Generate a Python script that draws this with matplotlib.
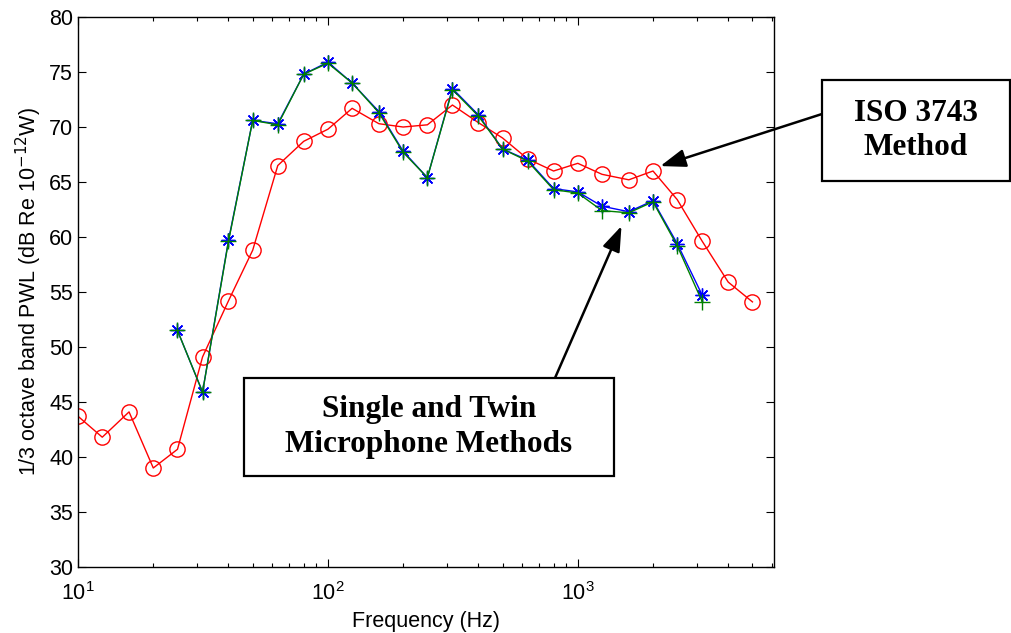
import numpy as np
import matplotlib
matplotlib.use("Agg")
import matplotlib.pyplot as plt
from matplotlib.patches import Rectangle

# 1/3 octave band centre frequencies (Hz)
freq_iso = [10, 12.5, 16, 20, 25, 31.5, 40, 50, 63, 80, 100, 125, 160, 200, 250,
            315, 400, 500, 630, 800, 1000, 1250, 1600, 2000, 2500, 3150, 4000, 5000]
pwl_iso = [43.7, 41.8, 44.1, 39.0, 40.7, 49.1, 54.2, 58.8, 66.5, 68.7, 69.8, 71.7, 70.3, 70.0,
           70.2, 72.0, 70.4, 69.0, 67.1, 66.0, 66.7, 65.7, 65.2, 66.0, 63.4, 59.6, 55.9, 54.1]

freq_mic = [25, 31.5, 40, 50, 63, 80, 100, 125, 160, 200, 250, 315, 400, 500,
            630, 800, 1000, 1250, 1600, 2000, 2500, 3150]
pwl_single = [51.5, 45.9, 59.7, 70.6, 70.3, 74.8, 75.9, 74.0, 71.4, 67.8, 65.4, 73.5, 71.1, 68.0,
              67.0, 64.4, 64.1, 62.8, 62.3, 63.3, 59.4, 54.7]
pwl_twin = [51.5, 45.9, 59.6, 70.6, 70.2, 74.8, 75.8, 74.0, 71.3, 67.7, 65.4, 73.4, 71.0, 68.0,
            66.9, 64.3, 64.0, 62.4, 62.2, 63.2, 59.2, 54.1]

plt.rcParams['font.family'] = ['Liberation Sans', 'DejaVu Sans']

fig = plt.figure(figsize=(10.11, 6.33), dpi=100)
ax = fig.add_axes([0.0772, 0.1043, 0.6884, 0.8688])

ax.plot(freq_iso, pwl_iso, color='r', lw=1, marker='o', ms=11, mfc='none', mec='r', mew=1)
ax.plot(freq_mic, pwl_single, color='b', lw=1, marker=(8, 2, 0), ms=10, mec='b', mew=1)
ax.plot(freq_mic, pwl_twin, color=(0, 0.5, 0), lw=1, marker='+', ms=12, mec=(0, 0.5, 0), mew=1)

ax.set_xscale('log')
ax.set_xlim(10, 6100)
ax.set_ylim(30, 80)
ax.set_yticks(np.arange(30, 81, 5))
ax.tick_params(which='both', direction='in', top=True, right=True, labelsize=15.5)
ax.tick_params(which='major', length=6, width=0.8)
ax.tick_params(which='minor', length=3, width=0.8)
ax.tick_params(axis='x', which='major', pad=11)
for s in ax.spines.values():
    s.set_linewidth(1)

ax.set_xlabel('Frequency (Hz)', fontsize=15.5, labelpad=4)
ax.set_ylabel('1/3 octave band PWL (dB Re 10$^{-12}$W)', fontsize=15.5, labelpad=4)

# annotation boxes (figure pixels, from top-left)
W, H = 1011, 633
serif = ['Liberation Serif', 'DejaVu Serif']


def box(x0, x1, y0, y1, label):
    fig.patches.append(Rectangle((x0 / W, 1 - y1 / H), (x1 - x0) / W, (y1 - y0) / H,
                                 transform=fig.transFigure, fc='white', ec='black', lw=1.6))
    fig.text((x0 + x1) / 2 / W, 1 - (y0 + y1) / 2 / H, label, ha='center', va='center',
             fontsize=22.5, fontweight='bold', family=serif, linespacing=1.25)


box(822, 1010, 80, 181, 'ISO 3743\nMethod')
box(244, 614, 378, 476, 'Single and Twin\nMicrophone Methods')

arrow = dict(arrowstyle='-|>,head_length=0.7,head_width=0.25', color='black', lw=1.8,
             shrinkA=0, shrinkB=0, mutation_scale=22)
ax.annotate('', xy=(2140, 66.45), xytext=(822, H - 114), textcoords='figure pixels',
            arrowprops=arrow, annotation_clip=False)
ax.annotate('', xy=(1496, 61.0), xytext=(555, H - 378), textcoords='figure pixels',
            arrowprops=arrow, annotation_clip=False)

fig.savefig('out.png', dpi=100)
